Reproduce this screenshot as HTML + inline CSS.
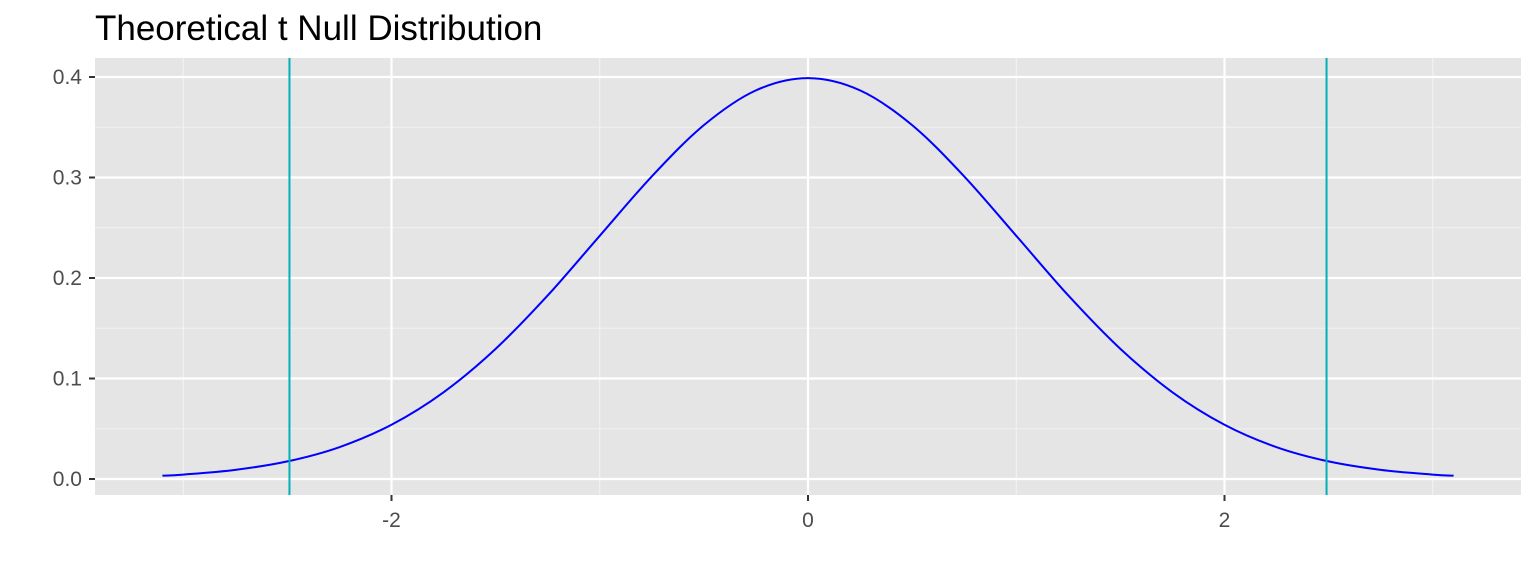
<!DOCTYPE html>
<html><head><meta charset="utf-8"><style>
body{margin:0;background:#fff;}
svg{display:block;font-family:"Liberation Sans",sans-serif;}
</style></head><body>
<svg id="chart" width="1536" height="576" viewBox="0 0 1536 576">
<text x="95" y="40" font-size="35" fill="#000">Theoretical t Null Distribution</text>
<rect x="95" y="58" width="1426" height="437" fill="#e5e5e5"/>
<g id="grid"></g><g id="axes"></g><g id="marks"></g>
</svg>
<script>
const xs = [-3.1,-3,-2.75,-2.5,-2.25,-2,-1.75,-1.5,-1.25,-1,-0.75,-0.5,-0.25,0,0.25,0.5,0.75,1,1.25,1.5,1.75,2,2.25,2.5,2.75,3,3.1];
const dens = [0.0033,0.0044,0.0091,0.0175,0.0317,0.054,0.0863,0.1295,0.1826,0.242,0.3011,0.3521,0.3867,0.3989,0.3867,0.3521,0.3011,0.242,0.1826,0.1295,0.0863,0.054,0.0317,0.0175,0.0091,0.0044,0.0033];
const critVals = [-2.49, 2.49];
const xTicks = [-2,0,2];
const xTickLabels = ["-2","0","2"];
const yTicks = [0,0.1,0.2,0.3,0.4];
const yTickLabels = ["0.0","0.1","0.2","0.3","0.4"];
const xMinor = [-3,-1,1,3];
const yMinor = [0.05,0.15,0.25,0.35];

const X = v => 808 + v*208.25;
const Y = v => 479 - v*1005;
const NS = "http://www.w3.org/2000/svg";
function mk(parent, tag, attrs){const e=document.createElementNS(NS,tag);for(const k in attrs)e.setAttribute(k,attrs[k]);document.getElementById(parent).appendChild(e);return e;}

xMinor.forEach(v=>{const e=mk('grid','line',{x1:X(v),x2:X(v),y1:58,y2:495,stroke:'#f2f2f2','stroke-width':1.1});

});
yMinor.forEach(v=>{const e=mk('grid','line',{x1:95,x2:1521,y1:Y(v),y2:Y(v),stroke:'#f2f2f2','stroke-width':1.1});

});
xTicks.forEach((v,i)=>{const e=mk('grid','line',{x1:X(v),x2:X(v),y1:58,y2:495,stroke:'#fff','stroke-width':2.2});


const t=mk('axes','line',{x1:X(v),x2:X(v),y1:495,y2:501,stroke:'#333','stroke-width':2});


const l=mk('axes','text',{x:X(v),y:527,'font-size':21,fill:'#4d4d4d','text-anchor':'middle'});l.textContent=xTickLabels[i];

});
yTicks.forEach((v,i)=>{const e=mk('grid','line',{x1:95,x2:1521,y1:Y(v),y2:Y(v),stroke:'#fff','stroke-width':2.2});


const t=mk('axes','line',{x1:89,x2:95,y1:Y(v),y2:Y(v),stroke:'#333','stroke-width':2});


const l=mk('axes','text',{x:82,y:Y(v)+7,'font-size':21,fill:'#4d4d4d','text-anchor':'end'});l.textContent=yTickLabels[i];

});

const P = xs.map((x,i)=>[X(x),Y(dens[i])]);
let d='M'+P[0][0]+','+P[0][1];
for(let i=0;i<P.length-1;i++){const p0=P[Math.max(i-1,0)],p1=P[i],p2=P[i+1],p3=P[Math.min(i+2,P.length-1)];
d+=` C${p1[0]+(p2[0]-p0[0])/6},${p1[1]+(p2[1]-p0[1])/6} ${p2[0]-(p3[0]-p1[0])/6},${p2[1]-(p3[1]-p1[1])/6} ${p2[0]},${p2[1]}`;}
const c=mk('marks','path',{d:d,fill:'none',stroke:'#0000ff','stroke-width':2});


critVals.forEach(v=>{const e=mk('marks','line',{x1:X(v),x2:X(v),y1:58,y2:495,stroke:'#00b0b8','stroke-width':2});

});
</script>
</body></html>
